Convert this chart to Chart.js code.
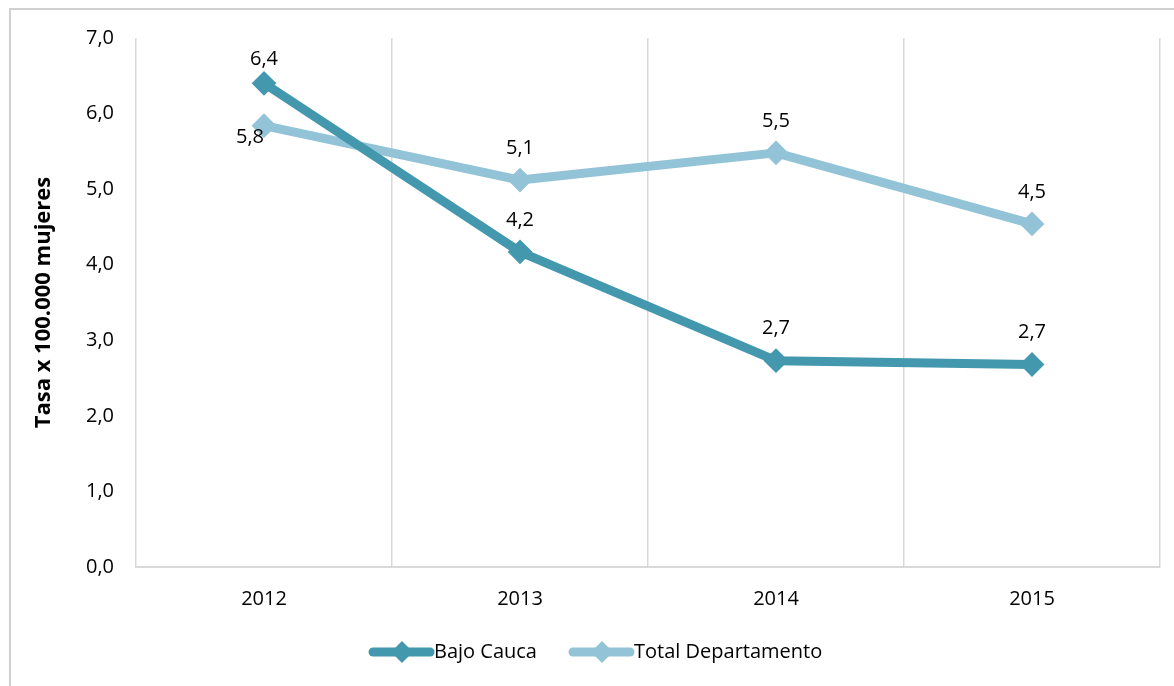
<!DOCTYPE html>
<html>
<head>
<meta charset="utf-8">
<script src="https://cdn.jsdelivr.net/npm/chart.js@4"></script>
<style>
    html, body { margin: 0; padding: 0; background: #fff; }
    #wrap { position: relative; width: 1174px; height: 686px; }
</style>
</head>
<body>
<div id="wrap"><canvas id="tasaChart" width="1174" height="686"></canvas></div>
<script>
// Data
const years = ['2012', '2013', '2014', '2015'];
const bajoCauca = [6.40, 4.17, 2.73, 2.68];
const totalDepartamento = [5.84, 5.12, 5.48, 4.54];
const yTicks = [0, 1, 2, 3, 4, 5, 6, 7];

const FONT = '"Open Sans", "Noto Sans", sans-serif';
const FS = 20;

const fmt = v => v.toFixed(1).replace('.', ',');

// Value labels above the points (2012 total sits below-left)
const valueLabels = {
    id: 'valueLabels',
    afterDatasetsDraw(chart) {
        const ctx = chart.ctx;
        ctx.save();
        ctx.font = FS + 'px ' + FONT;
        ctx.fillStyle = '#000';
        ctx.textAlign = 'center';
        ctx.textBaseline = 'middle';
        chart.data.datasets.forEach((ds, di) => {
            chart.getDatasetMeta(di).data.forEach((pt, i) => {
                let dx = 0, dy = -32;
                if (di === 0 && i === 0) dy = -24;
                if (di === 1 && i === 0) { dx = -14; dy = 12; }
                ctx.fillText(fmt(ds.data[i]), pt.x + dx, pt.y + dy);
            });
        });
        ctx.restore();
    }
};

// Outer frame + legend with line and diamond
const frameAndLegend = {
    id: 'frameAndLegend',
    beforeDraw(chart) {
        const ctx = chart.ctx;
        ctx.save();
        ctx.strokeStyle = '#d0d0d0';
        ctx.lineWidth = 2;
        ctx.strokeRect(10, 9, 1200, 700);
        ctx.restore();
    },
    afterDraw(chart) {
        const ctx = chart.ctx;
        const y = 652;
        const items = [
            { x: 373, ds: chart.data.datasets[0] },
            { x: 573, ds: chart.data.datasets[1] }
        ];
        ctx.save();
        ctx.font = FS + 'px ' + FONT;
        ctx.textBaseline = 'middle';
        items.forEach(it => {
            ctx.strokeStyle = it.ds.borderColor;
            ctx.lineWidth = 9;
            ctx.lineCap = 'round';
            ctx.beginPath();
            ctx.moveTo(it.x, y);
            ctx.lineTo(it.x + 57, y);
            ctx.stroke();
            ctx.fillStyle = it.ds.borderColor;
            ctx.beginPath();
            const cx = it.x + 29;
            ctx.moveTo(cx, y - 11);
            ctx.lineTo(cx + 11, y);
            ctx.lineTo(cx, y + 11);
            ctx.lineTo(cx - 11, y);
            ctx.closePath();
            ctx.fill();
            ctx.fillStyle = '#000';
            ctx.fillText(it.ds.label, it.x + 61, y);
        });
        ctx.restore();
    }
};

const ctx = document.getElementById('tasaChart').getContext('2d');
const tasaChart = new Chart(ctx, {
    type: 'line',
    data: {
        labels: years,
        datasets: [{
            label: 'Bajo Cauca',
            data: bajoCauca,
            borderColor: '#4398ae',
            backgroundColor: '#4398ae',
            borderWidth: 9,
            pointStyle: 'rectRot',
            pointRadius: 11,
            pointHoverRadius: 11,
            pointBorderWidth: 2,
            borderCapStyle: 'round',
            borderJoinStyle: 'round'
        }, {
            label: 'Total Departamento',
            data: totalDepartamento,
            borderColor: '#93c3d7',
            backgroundColor: '#93c3d7',
            borderWidth: 9,
            pointStyle: 'rectRot',
            pointRadius: 11,
            pointHoverRadius: 11,
            pointBorderWidth: 2,
            borderCapStyle: 'round',
            borderJoinStyle: 'round'
        }]
    },
    options: {
        responsive: false,
        animation: false,
        layout: { padding: { left: 0, top: 38, right: 14, bottom: 59 } },
        plugins: {
            legend: { display: false },
            tooltip: { enabled: false }
        },
        scales: {
            x: {
                offset: true,
                grid: { offset: true, color: '#d9d9d9', lineWidth: 1.5, drawTicks: false },
                border: { display: true, color: '#d9d9d9', width: 2 },
                ticks: { color: '#000', font: { family: FONT, size: FS }, padding: 20 },
                afterFit(scale) { scale.height = 60; }
            },
            y: {
                min: 0,
                max: 7,
                afterBuildTicks(scale) { scale.ticks = yTicks.map(v => ({ value: v })); },
                grid: { display: false, drawTicks: false },
                border: { display: false },
                ticks: {
                    color: '#000',
                    font: { family: FONT, size: FS },
                    padding: 22,
                    callback: v => fmt(v)
                },
                title: {
                    display: true,
                    text: 'Tasa x 100.000 mujeres',
                    color: '#000',
                    font: { family: FONT, size: 22, weight: 'bold' },
                    padding: { top: 31, bottom: 0 }
                },
                afterFit(scale) { scale.width = 136; }
            }
        }
    },
    plugins: [frameAndLegend, valueLabels]
});
</script>
</body>
</html>
